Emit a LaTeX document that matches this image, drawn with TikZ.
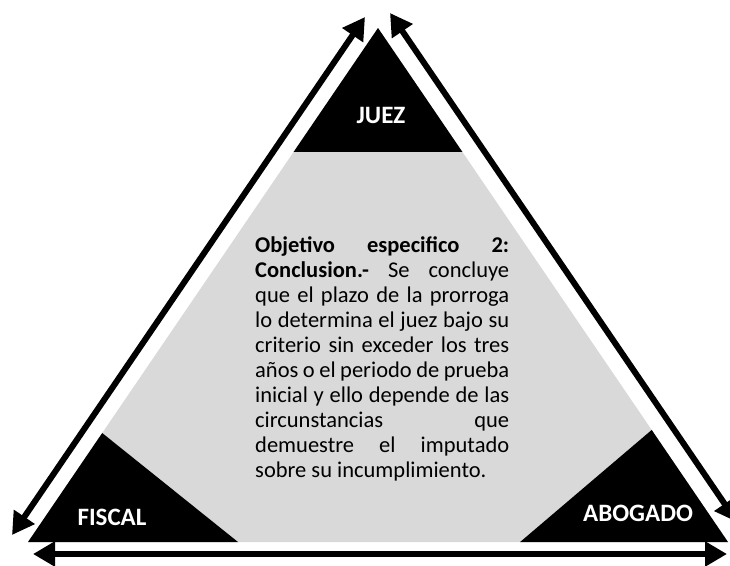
\documentclass[tikz,border=0pt]{standalone}
\usepackage{fontspec}
\setmainfont{Carlito}
\usetikzlibrary{arrows.meta,calc}
\definecolor{panelgray}{HTML}{D9D9D9}
\tikzset{
  twoway/.style={{Triangle[length=22pt,width=24pt]}-{Triangle[length=22pt,width=24pt]}, line width=6pt},
  cornerlabel/.style={white, font=\fontsize{25}{28}\selectfont\bfseries}
}
\begin{document}
\begin{tikzpicture}[x=1pt,y=-1pt]
\useasboundingbox (0,0) rectangle (730,565);
\coordinate (J) at (378, 28);
\coordinate (F) at (28, 542);
\coordinate (A) at (728, 542);
% big panel and the three corners
\fill [panelgray] (J) -- (F) -- (A) -- cycle;
\fill (J) -- ($(J)!0.241!(F)$) -- ($(J)!0.241!(A)$) -- cycle;
\fill (F) -- ($(F)!0.212!(J)$) -- ($(F)!0.30!(A)$) -- cycle;
\fill (A) -- ($(A)!0.218!(J)$) -- ($(A)!0.297!(F)$) -- cycle;
\node [cornerlabel] (juez) at (381, 115) {JUEZ};
\node [cornerlabel] (fiscal) at (112, 517) {FISCAL};
\node [cornerlabel] (abogado) at (638, 513) {ABOGADO};
% arrows round the triangle
\coordinate (L1) at (365, 17);
\coordinate (L2) at (12, 535);
\coordinate (R1) at (390, 13);
\coordinate (R2) at (737, 522);
\coordinate (B1) at (33, 554);
\coordinate (B2) at (727, 554);
\draw [twoway] (L1) -- (L2);
\draw [twoway] (R1) -- (R2);
\draw [twoway] (B1) -- (B2);
\node [anchor=north west, inner sep=0pt, text width=254pt, align=justify,
  font=\fontsize{22.5}{25}\selectfont] (objetivo) at (255, 236)
  {\hyphenpenalty=10000\textbf{Objetivo especifico 2:}\linebreak
  \textbf{Conclusion.-} Se concluye\linebreak
  que el plazo de la prorroga\linebreak
  lo determina el juez bajo su\linebreak
  criterio sin exceder los tres\linebreak
  años o el periodo de prueba\linebreak
  inicial y ello depende de las\linebreak
  circunstancias que\linebreak
  demuestre el imputado\linebreak
  sobre su incumplimiento.};
\end{tikzpicture}
\end{document}
